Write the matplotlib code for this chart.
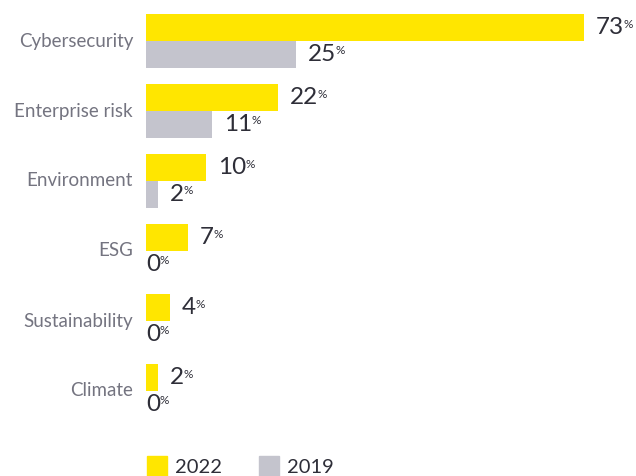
import matplotlib
matplotlib.use("Agg")
import matplotlib.pyplot as plt
from matplotlib.patches import Patch

# survey share by topic, 2022 vs 2019
categories = ["Cybersecurity", "Enterprise risk", "Environment", "ESG", "Sustainability", "Climate"]
values_2022 = [73, 22, 10, 7, 4, 2]
values_2019 = [25, 11, 2, 0, 0, 0]
series_labels = ["2022", "2019"]

YELLOW = "#FFE600"
GREY = "#C4C4CD"
DARK = "#2E2E38"
LABEL_GREY = "#747480"

plt.rcParams["font.family"] = ["Lato", "DejaVu Sans"]

W, H = 636, 476
fig = plt.figure(figsize=(W / 100, H / 100), dpi=100)
# axes spans from the bar baseline to the right edge, 70 px per category
ax = fig.add_axes([146 / W, 56 / H, (W - 146) / W, 420 / H])

bar_h = 27 / 70
pos = list(range(len(categories)))
ax.barh([p - bar_h / 2 for p in pos], values_2022, height=bar_h, color=YELLOW, linewidth=0)
ax.barh([p + bar_h / 2 for p in pos], values_2019, height=bar_h, color=GREY, linewidth=0)

ax.set_xlim(0, (W - 146) / 6.0)
ax.set_ylim(-41 / 70 + 6, -41 / 70)
ax.axis("off")


def value_label(x, y, v):
    dx = 12 if v > 0 else 0
    t = ax.annotate(f"{v}", xy=(x, y), xytext=(dx, 0), textcoords="offset pixels",
                    ha="left", va="center", fontsize=17.5, color=DARK)
    # small raised percent sign
    ax.annotate("%", xy=(1, 1), xycoords=t, xytext=(-1, -1.5), textcoords="offset pixels",
                ha="left", va="top", fontsize=8.5, color=DARK)


for p, v in zip(pos, values_2022):
    value_label(v, p - bar_h / 2, v)
for p, v in zip(pos, values_2019):
    value_label(v, p + bar_h / 2, v)

# category names to the left of the bars
for p, name in zip(pos, categories):
    ax.annotate(name, xy=(0, p), xytext=(-13, 0), textcoords="offset pixels",
                ha="right", va="center", fontsize=13.5, color=LABEL_GREY)

handles = [Patch(color=YELLOW, label=series_labels[0]), Patch(color=GREY, label=series_labels[1])]
fig.legend(handles=handles, loc="lower left", bbox_to_anchor=(129 / W, -19 / H), ncol=2,
           frameon=False, fontsize=14.5, handlelength=1.0, handleheight=1.25,
           handletextpad=0.4, columnspacing=1.8, labelcolor=DARK)

fig.savefig("out.png", dpi=100)
